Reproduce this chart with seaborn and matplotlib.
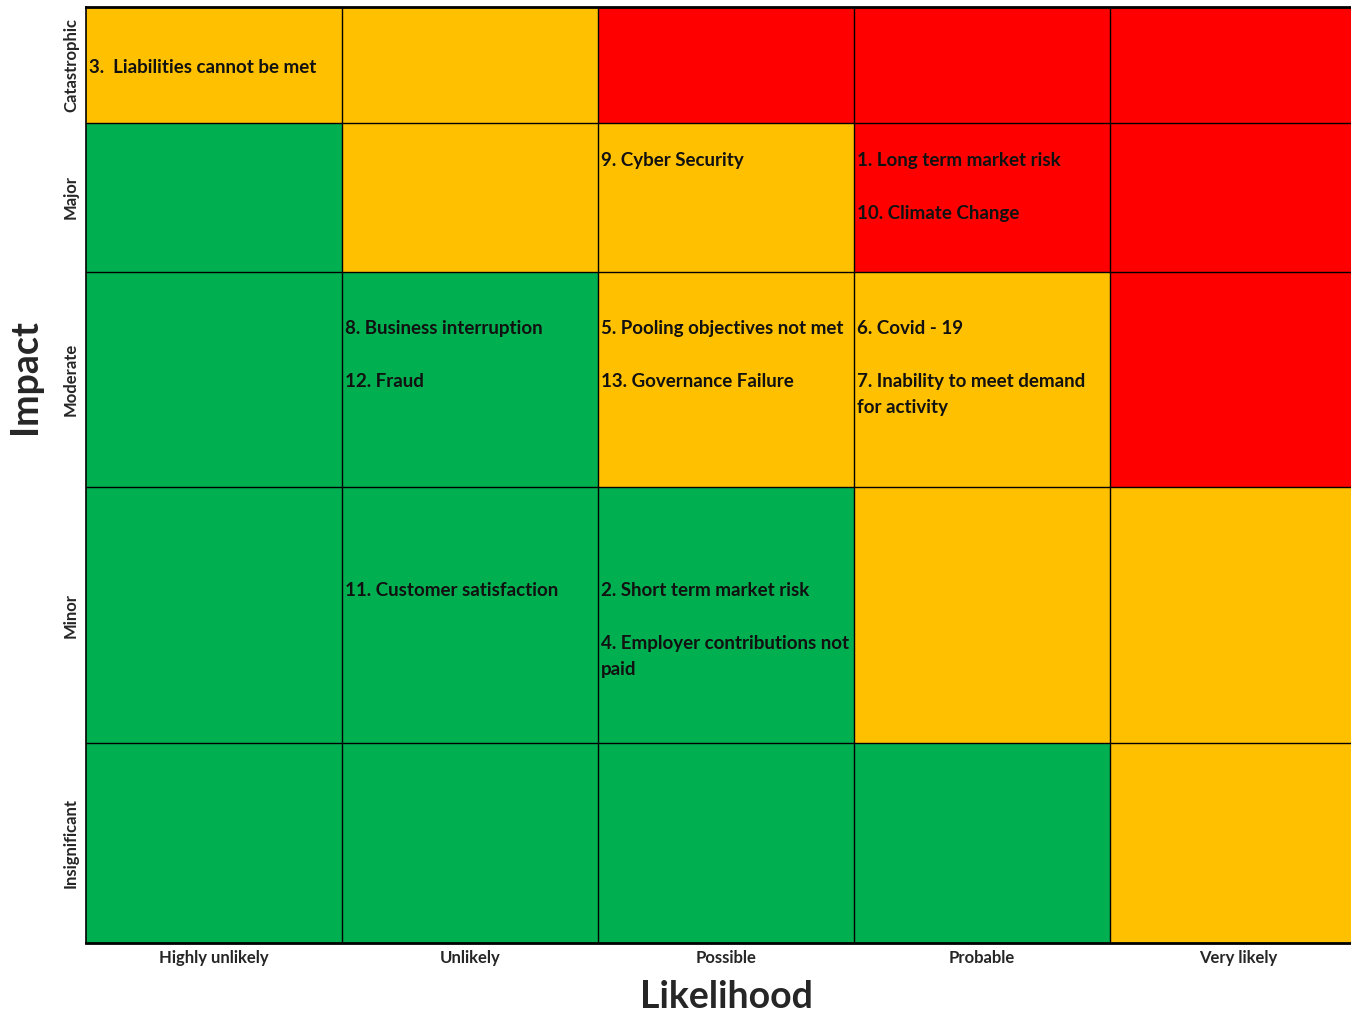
import numpy as np
import matplotlib.pyplot as plt
from matplotlib.colors import ListedColormap
import seaborn as sns

# Risk matrix: rows = impact (top to bottom), columns = likelihood
impact = ['Catastrophic', 'Major', 'Moderate', 'Minor', 'Insignificant']
likelihood = ['Highly unlikely', 'Unlikely', 'Possible', 'Probable', 'Very likely']

# 0 = green, 1 = amber, 2 = red
levels = np.array([
    [1, 1, 2, 2, 2],
    [0, 1, 1, 2, 2],
    [0, 0, 1, 1, 2],
    [0, 0, 0, 1, 1],
    [0, 0, 0, 0, 1],
])

# risks sitting in each cell (impact, likelihood, lines)
risks = [
    ('Catastrophic', 'Highly unlikely', ['3.  Liabilities cannot be met']),
    ('Major', 'Possible', ['9. Cyber Security']),
    ('Major', 'Probable', ['1. Long term market risk', '10. Climate Change']),
    ('Moderate', 'Unlikely', ['8. Business interruption', '12. Fraud']),
    ('Moderate', 'Possible', ['5. Pooling objectives not met', '13. Governance Failure']),
    ('Moderate', 'Probable', ['6. Covid - 19', '7. Inability to meet demand\nfor activity']),
    ('Minor', 'Unlikely', ['11. Customer satisfaction']),
    ('Minor', 'Possible', ['2. Short term market risk', '4. Employer contributions not\npaid']),
]

# layout: row heights (like spreadsheet rows) and where the first text line sits
row_heights = [116, 149, 215, 256, 200]
text_offset = {'Catastrophic': 60, 'Major': 37, 'Moderate': 56, 'Minor': 103}

colors = ['#00B050', '#FFC000', '#FF0000']
font = ['Lato', 'DejaVu Sans']

sns.set_style('white')
plt.rcParams['font.family'] = font

grid = np.repeat(levels, row_heights, axis=0)
row_tops = np.concatenate([[0], np.cumsum(row_heights)])

fig = plt.figure(figsize=(13.51, 10.14), dpi=100)
ax = fig.add_axes([86 / 1351, 1 - 943 / 1014, 1280 / 1351, 936 / 1014])

sns.heatmap(grid, ax=ax, cmap=ListedColormap(colors), vmin=-0.5, vmax=2.5,
            cbar=False, xticklabels=likelihood, yticklabels=False)

# cell borders
for y in row_tops[1:-1]:
    ax.axhline(y, color='black', lw=1)
for x in range(1, len(likelihood)):
    ax.axvline(x, color='black', lw=1)

for side in ['top', 'bottom']:
    ax.spines[side].set_visible(True)
    ax.spines[side].set_linewidth(2)
    ax.spines[side].set_color('black')
ax.spines['left'].set_visible(True)
ax.spines['left'].set_linewidth(1.2)
ax.spines['left'].set_color('black')
ax.spines['right'].set_visible(False)

ax.set_yticks((row_tops[:-1] + row_tops[1:]) / 2)
ax.set_yticklabels(impact, rotation=90, va='center', fontsize=12, fontweight='bold')
ax.set_xticklabels(likelihood, rotation=0, fontsize=12, fontweight='bold')
ax.tick_params(axis='both', length=0, pad=5)

for imp, lik, lines in risks:
    r = impact.index(imp)
    c = likelihood.index(lik)
    y0 = row_tops[r] + text_offset[imp] - 8
    ax.text(c + 0.012, y0, '\n\n'.join(lines), ha='left', va='top',
            fontsize=13.5, fontweight='bold', color='#111111', linespacing=1.67)

ax.set_xlabel('Likelihood', fontsize=27, fontweight='bold', labelpad=10)
ax.set_ylabel('Impact', fontsize=27, fontweight='bold')
ax.yaxis.set_label_coords(-0.034, 0.605)

fig.savefig('out.png', dpi=100)
